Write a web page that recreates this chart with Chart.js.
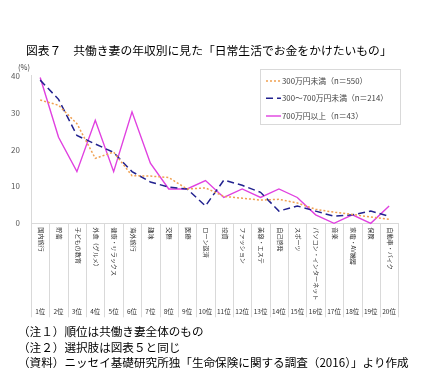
<!DOCTYPE html>
<html><head><meta charset="utf-8">
<script src="https://cdn.jsdelivr.net/npm/chart.js@4/dist/chart.umd.min.js"></script>
<style>
html,body{margin:0;padding:0;background:#fff;}
#wrap{position:relative;width:424px;height:382px;overflow:hidden;font-family:"Noto Sans CJK JP","Noto Sans",sans-serif;color:#000;}
#c{position:absolute;left:0;top:0;}
.t{position:absolute;white-space:nowrap;}
#title{left:26px;top:43px;font-size:11.8px;line-height:14px;}
#unit{left:18px;top:62px;font-size:7.5px;line-height:10px;color:#404040;}
#notes{left:18px;top:324px;font-size:11.6px;line-height:15.7px;}
</style></head>
<body><div id="wrap">
<canvas id="c" width="424" height="382"></canvas>
<div class="t" id="title">図表７　共働き妻の年収別に見た「日常生活でお金をかけたいもの」</div>
<div class="t" id="unit">(%)</div>
<div class="t" id="notes">（注１）順位は共働き妻全体のもの<br>（注２）選択肢は図表５と同じ<br>（資料）ニッセイ基礎研究所独「生命保険に関する調査（2016）」より作成</div>
</div>
<script>
const categories = ['国内旅行','貯蓄','子どもの教育','外食（グルメ）','健康・リラックス','海外旅行','趣味','交際','医療','ローン返済','投資','ファッション','美容・エステ','自己啓発','スポーツ','パソコン・インターネット','音楽','家電・AV機器','保険','自動車・バイク'];
const ranks = ['1位','2位','3位','4位','5位','6位','7位','8位','9位','10位','11位','12位','13位','14位','15位','16位','17位','18位','19位','20位'];
const seriesNames = ['300万円未満（n＝550）','300～700万円未満（n＝214）','700万円以上（n＝43）'];
const under300 = [33.4, 32.0, 27.0, 17.6, 19.3, 12.9, 12.8, 12.4, 9.3, 9.6, 7.3, 6.8, 6.3, 6.5, 5.5, 3.8, 3.0, 2.4, 1.7, 1.1];
const mid300to700 = [38.8, 33.6, 23.8, 21.5, 19.2, 14.0, 11.2, 9.8, 9.3, 4.7, 11.7, 10.3, 8.4, 3.3, 4.7, 3.3, 1.9, 2.3, 3.3, 1.9];
const over700 = [39.5, 23.3, 14.0, 27.9, 14.0, 30.2, 16.3, 9.3, 9.3, 11.6, 7.0, 9.3, 7.0, 9.3, 7.0, 2.3, 0, 2.3, 0, 4.7];
const yTicks = [0, 10, 20, 30, 40];

const FONT = '"Noto Sans CJK JP","Noto Sans",sans-serif';

const xDecor = {
  id: 'xDecor',
  afterDraw(chart) {
    const ctx = chart.ctx, xs = chart.scales.x, area = chart.chartArea;
    const n = categories.length;
    const half = (xs.getPixelForValue(1) - xs.getPixelForValue(0)) / 2;
    ctx.save();
    ctx.strokeStyle = '#d9d9d9';
    ctx.lineWidth = 1;
    for (let i = 0; i <= n; i++) {
      const bx = Math.round(xs.getPixelForValue(Math.min(i, n - 1)) + (i === n ? half : -half)) + 0.5;
      ctx.beginPath(); ctx.moveTo(bx, area.bottom); ctx.lineTo(bx, area.bottom + 94); ctx.stroke();
    }
    ctx.fillStyle = '#333333';
    for (let i = 0; i < n; i++) {
      const cx = xs.getPixelForValue(i);
      ctx.save();
      ctx.translate(cx + 1, area.bottom + 4);
      ctx.rotate(Math.PI / 2);
      ctx.font = '6.1px ' + FONT;
      ctx.textAlign = 'left'; ctx.textBaseline = 'middle';
      ctx.fillText(categories[i], 0, 0);
      ctx.restore();
      ctx.font = '6.5px ' + FONT;
      ctx.textAlign = 'center'; ctx.textBaseline = 'middle';
      ctx.fillText(ranks[i], cx, area.bottom + 88.5);
    }
    ctx.restore();
  }
};

const legendBox = {
  id: 'legendBox',
  afterDraw(chart) {
    const ctx = chart.ctx;
    const x0 = 260, y0 = 69, w = 140, h = 55;
    ctx.save();
    ctx.fillStyle = '#ffffff';
    ctx.fillRect(x0, y0, w, h);
    ctx.strokeStyle = '#d9d9d9'; ctx.lineWidth = 1;
    ctx.strokeRect(x0 + 0.5, y0 + 0.5, w, h);
    const ys = [81, 98.3, 116];
    chart.data.datasets.forEach((ds, i) => {
      ctx.beginPath();
      ctx.strokeStyle = ds.borderColor; ctx.lineWidth = ds.borderWidth;
      ctx.setLineDash(ds.borderDash || []);
      ctx.moveTo(266, ys[i]); ctx.lineTo(281, ys[i]); ctx.stroke();
      ctx.setLineDash([]);
      ctx.fillStyle = '#404040';
      ctx.font = '7.8px ' + FONT;
      ctx.textAlign = 'left'; ctx.textBaseline = 'middle';
      ctx.fillText(ds.label, 282, ys[i]);
    });
    ctx.restore();
  }
};

new Chart(document.getElementById('c'), {
  type: 'line',
  data: {
    labels: categories,
    datasets: [
      { label: seriesNames[0], data: under300, borderColor: '#F0A050', borderWidth: 1.5, borderDash: [2, 2], pointRadius: 0, tension: 0, clip: false },
      { label: seriesNames[1], data: mid300to700, borderColor: '#22228F', borderWidth: 1.5, borderDash: [7, 4], pointRadius: 0, tension: 0, clip: false },
      { label: seriesNames[2], data: over700, borderColor: '#E040E0', borderWidth: 1.4, pointRadius: 0, tension: 0, clip: false }
    ]
  },
  options: {
    responsive: false,
    devicePixelRatio: 1,
    animation: false,
    layout: { padding: { top: 75.7, bottom: 158.7, left: 0, right: 25.7 } },
    plugins: { legend: { display: false }, title: { display: false }, tooltip: { enabled: false } },
    scales: {
      x: {
        offset: true,
        grid: { display: false, drawTicks: false },
        border: { display: true, color: '#d9d9d9', width: 1 },
        ticks: { display: false },
        afterFit(s) { s.height = 0; }
      },
      y: {
        min: 0, max: 40,
        grid: { display: false, drawTicks: false },
        border: { display: true, color: '#d9d9d9', width: 1 },
        afterBuildTicks(s) { s.ticks = yTicks.map(v => ({ value: v })); },
        ticks: { padding: 11, color: '#595959', font: { size: 8, family: FONT } },
        afterFit(s) { s.width = 31; }
      }
    }
  },
  plugins: [xDecor, legendBox]
});
</script>
</body></html>
